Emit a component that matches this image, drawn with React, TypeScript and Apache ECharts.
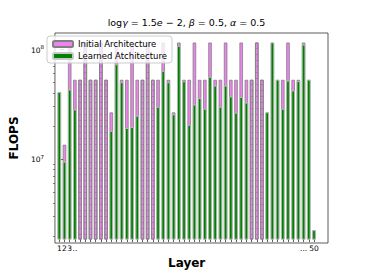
import React, { useEffect, useRef } from 'react';
import * as echarts from 'echarts';

// FLOPS per layer (log scale)
const initialFlops: number[] = [
  3.96e7, 1.29e7, 1.14e8, 5.15e7, 5.15e7, 1.14e8, 5.15e7, 5.15e7, 1.14e8, 5.15e7,
  2.57e7, 1.14e8, 5.15e7, 5.15e7, 1.14e8, 5.15e7, 5.15e7, 1.14e8, 5.15e7, 5.15e7,
  1.14e8, 5.15e7, 2.57e7, 1.14e8, 5.15e7, 5.15e7, 1.14e8, 5.15e7, 5.15e7, 1.14e8,
  5.15e7, 5.15e7, 1.14e8, 5.15e7, 5.15e7, 1.14e8, 5.15e7, 5.15e7, 1.14e8, 5.15e7,
  2.57e7, 1.14e8, 5.15e7, 5.15e7, 1.14e8, 5.15e7, 5.15e7, 1.14e8, 5.15e7, 2.08e6,
];
const learnedFlops: (number | null)[] = [
  3.96e7, 8.95e6, 4.18e7, 2.73e7, null, null, null, null, null, null,
  1.73e7, 7.16e7, 4.88e7, 1.84e7, 1.88e7, 2.39e7, null, null, null, 2.89e7,
  6.22e7, 4.88e7, 2.46e7, 1.06e8, 4.98e7, 1.97e7, 3.03e7, 3.49e7, 2.77e7, 5.48e7,
  4.54e7, 2.89e7, 4.54e7, 3.6e7, 2.55e7, 3.56e7, 3.16e7, null, null, null,
  2.57e7, 1.14e8, 5.15e7, 2.77e7, 5.05e7, 4.09e7, 5.0e7, 1.09e8, 5.15e7, 2.08e6,
];
const layers: string[] = initialFlops.map((_, i) => String(i + 1));
const xLabelPositions: string[] = ['1', '2', '3', '4', '48', '50'];
const xLabelTexts: string[] = ['1', '2', '3', '..', '...', '50'];
const yMajorTicks: number[] = [1e7, 1e8];
const yMinorTicks: number[] = [
  2e6, 3e6, 4e6, 5e6, 6e6, 7e6, 8e6, 9e6,
  2e7, 3e7, 4e7, 5e7, 6e7, 7e7, 8e7, 9e7,
];
const seriesNames: string[] = ['Initial Architecture', 'Learned Atchitecture'];
const yMin = 1.723e6;
const yMax = 1.398e8;
// x data range of the frame, in layer units (matplotlib margins)
const xMin = -1.75;
const xMax = 52.7;

const FONT = 'DejaVu Sans';
const PLOT_LEFT = 45;
const PLOT_TOP = 33;
const PLOT_W = 283;
const PLOT_H = 210;

export default function App() {
  const ref = useRef<HTMLDivElement>(null);
  useEffect(() => {
    if (!ref.current) return;
    const chart = echarts.init(ref.current, undefined, { renderer: 'svg' });
    const lmin = Math.log10(yMin);
    const lmax = Math.log10(yMax);
    const unit = PLOT_W / (xMax - xMin);
    const barGridLeft = PLOT_LEFT + (0.5 - xMin) * unit;
    const barGridWidth = layers.length * unit;
    const tickAxisBase = {
      type: 'value' as const,
      gridIndex: 0,
      position: 'left' as const,
      min: lmin,
      max: lmax,
      splitLine: { show: false },
      axisLine: { show: false },
    };
    const dashDecal = {
      symbol: 'rect',
      symbolSize: 1,
      dashArrayX: [[1, 0]],
      dashArrayY: [1, 5],
      rotation: 0,
      color: 'rgba(128,128,128,0.6)',
    };
    chart.setOption({
      animation: false,
      textStyle: { fontFamily: FONT },
      graphic: [
        {
          type: 'text',
          x: PLOT_LEFT + PLOT_W / 2,
          y: 22,
          style: {
            text:
              '{n|log}{i|γ}{n| = 1.5}{i|e}{n| − 2, }{i|β}{n| = 0.5, }{i|α}{n| = 0.5}',
            align: 'center',
            verticalAlign: 'middle',
            fill: '#000',
            rich: {
              n: { fontFamily: FONT, fontSize: 9.5, fill: '#000' },
              i: { fontFamily: FONT, fontSize: 9.5, fontStyle: 'italic', fill: '#000' },
            },
          },
        },
      ],
      legend: {
        data: seriesNames,
        orient: 'vertical',
        left: 47,
        top: 36,
        padding: [3, 5, 2, 5],
        itemWidth: 20,
        itemHeight: 6,
        itemGap: 2,
        borderColor: '#cccccc',
        borderWidth: 1,
        borderRadius: 3,
        backgroundColor: 'rgba(255,255,255,0.8)',
        textStyle: { fontFamily: FONT, fontSize: 8.5, color: '#000', lineHeight: 10 },
        z: 10,
      },
      grid: [
        {
          left: PLOT_LEFT,
          top: PLOT_TOP,
          width: PLOT_W,
          height: PLOT_H,
          show: true,
          borderColor: '#333',
          borderWidth: 0.8,
          backgroundColor: 'transparent',
        },
        {
          left: barGridLeft,
          top: PLOT_TOP,
          width: barGridWidth,
          height: PLOT_H,
          show: false,
        },
      ],
      xAxis: [
        {
          type: 'value',
          gridIndex: 0,
          min: xMin,
          max: xMax,
          show: false,
        },
        {
          type: 'category',
          gridIndex: 1,
          data: layers,
          boundaryGap: true,
          name: 'Layer',
          nameLocation: 'middle',
          nameGap: 16,
          nameTextStyle: { fontFamily: FONT, fontSize: 12, fontWeight: 'bold', color: '#000' },
          splitLine: { show: false },
          axisLine: { show: false },
          axisTick: {
            show: true,
            alignWithLabel: true,
            interval: 0,
            length: 3,
            lineStyle: { color: '#333', width: 0.8 },
          },
          axisLabel: {
            show: true,
            interval: 0,
            margin: 5,
            fontFamily: FONT,
            fontSize: 7.5,
            color: '#000',
            formatter: (v: string) => {
              const idx = xLabelPositions.indexOf(v);
              return idx >= 0 ? xLabelTexts[idx] : '';
            },
          },
        },
      ],
      yAxis: [
        {
          ...tickAxisBase,
          name: 'FLOPS',
          nameLocation: 'middle',
          nameGap: 27,
          nameTextStyle: { fontFamily: FONT, fontSize: 12, fontWeight: 'bold', color: '#000' },
          axisTick: {
            show: true,
            length: 3.5,
            lineStyle: { color: '#333', width: 0.8 },
            customValues: yMajorTicks.map((v) => Math.log10(v)),
          },
          axisLabel: {
            show: true,
            margin: 11,
            customValues: yMajorTicks.map((v) => Math.log10(v)),
            formatter: (v: number) => '{b|10}{s|' + Math.round(v) + '}',
            rich: {
              b: { fontFamily: FONT, fontSize: 7.5, color: '#000', verticalAlign: 'bottom', lineHeight: 10 },
              s: {
                fontFamily: FONT,
                fontSize: 5.5,
                color: '#000',
                verticalAlign: 'bottom',
                lineHeight: 10,
                padding: [0, 0, 4, 0],
              },
            },
          },
        },
        {
          ...tickAxisBase,
          axisTick: {
            show: true,
            length: 2,
            lineStyle: { color: '#333', width: 0.6 },
            customValues: yMinorTicks.map((v) => Math.log10(v)),
          },
          axisLabel: { show: false },
        },
        {
          type: 'log',
          logBase: 10,
          gridIndex: 1,
          min: yMin,
          max: yMax,
          position: 'left',
          axisLine: { show: false },
          axisTick: { show: false },
          axisLabel: { show: false },
          splitLine: { show: false },
          minorTick: { show: false },
        },
      ],
      series: [
        {
          name: seriesNames[0],
          type: 'bar',
          xAxisIndex: 1,
          yAxisIndex: 2,
          barWidth: 3.5,
          barGap: '-100%',
          itemStyle: { color: '#EE82EE', borderColor: '#808080', borderWidth: 0.8 },
          data: initialFlops.map((v, i) =>
            learnedFlops[i] === null
              ? { value: v, itemStyle: { decal: dashDecal } }
              : { value: v }
          ),
          z: 2,
        },
        {
          name: seriesNames[1],
          type: 'bar',
          xAxisIndex: 1,
          yAxisIndex: 2,
          barWidth: 3.5,
          barGap: '-100%',
          itemStyle: { color: '#008000', borderColor: '#c8c8c8', borderWidth: 0.8 },
          data: learnedFlops.map((v) => (v === null ? '-' : v)),
          z: 3,
        },
      ],
    });
    return () => chart.dispose();
  }, []);
  return (
    <div
      ref={ref}
      style={{ position: 'absolute', left: 0, top: 0, width: 366, height: 274, background: '#fff' }}
    />
  );
}
